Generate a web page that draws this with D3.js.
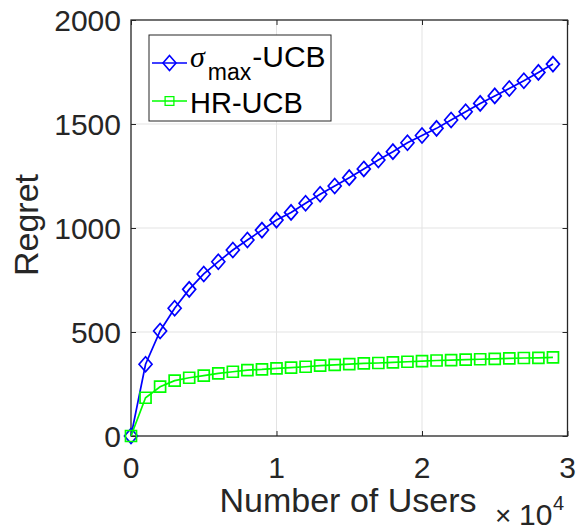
<!DOCTYPE html>
<html>
<head>
<meta charset="utf-8">
<script src="https://cdn.jsdelivr.net/npm/d3@7"></script>
<style>
  body { margin: 0; background: #fff; }
  svg { display: block; font-family: "Liberation Sans", Arial, Helvetica, sans-serif; }
  .grid line { stroke: #e3e3e3; stroke-width: 1; }
  .tick-label { fill: #262626; font-size: 30px; }
</style>
</head>
<body>
<div id="chart"></div>
<script>
// data (x in users, y = regret)
const users = [0, 1000, 2000, 3000, 4000, 5000, 6000, 7000, 8000, 9000,
  10000, 11000, 12000, 13000, 14000, 15000, 16000, 17000, 18000, 19000,
  20000, 21000, 22000, 23000, 24000, 25000, 26000, 27000, 28000, 29000];
const sigmaUCB = [0, 345, 505, 614, 705, 779, 838, 894, 942, 990,
  1038, 1075, 1119, 1162, 1202, 1242, 1284, 1327, 1367, 1410,
  1445, 1479, 1519, 1559, 1599, 1635, 1671, 1708, 1748, 1788];
const hrUCB = [0, 184, 237, 266, 280, 290, 301, 309, 317, 320,
  325, 329, 333, 338, 342, 346, 349, 351, 354, 357,
  360, 363, 365, 367, 369, 371, 373, 375, 376, 378];
const xTicks = [0, 10000, 20000, 30000];
const xTickLabels = ["0", "1", "2", "3"];
const yTicks = [0, 500, 1000, 1500, 2000];

const width = 577, height = 531;
const plot = { left: 131, right: 567.5, top: 20, bottom: 436 };
const axisColor = "#262626";

const svg = d3.select("#chart").append("svg")
  .attr("width", width)
  .attr("height", height);

const x = d3.scaleLinear().domain([0, 30000]).range([plot.left, plot.right]);
const y = d3.scaleLinear().domain([0, 2000]).range([plot.bottom, plot.top]);

// grid
const grid = svg.append("g").attr("class", "grid");
grid.selectAll(".gx").data(xTicks.slice(1, -1)).join("line")
  .attr("x1", d => x(d)).attr("x2", d => x(d))
  .attr("y1", plot.top).attr("y2", plot.bottom);
grid.selectAll(".gy").data(yTicks.slice(1, -1)).join("line")
  .attr("x1", plot.left).attr("x2", plot.right)
  .attr("y1", d => y(d)).attr("y2", d => y(d));

// axes, ticks pointing inward on all four sides
const tickLen = 5;
const axes = svg.append("g");
axes.append("g").attr("transform", `translate(0,${plot.bottom})`)
  .call(d3.axisTop(x).tickValues(xTicks).tickSize(tickLen).tickFormat(""));
axes.append("g").attr("transform", `translate(0,${plot.top})`)
  .call(d3.axisBottom(x).tickValues(xTicks).tickSize(tickLen).tickFormat(""));
axes.append("g").attr("transform", `translate(${plot.left},0)`)
  .call(d3.axisRight(y).tickValues(yTicks).tickSize(tickLen).tickFormat(""));
axes.append("g").attr("transform", `translate(${plot.right},0)`)
  .call(d3.axisLeft(y).tickValues(yTicks).tickSize(tickLen).tickFormat(""));
axes.selectAll(".domain").remove();
axes.selectAll("line").attr("stroke", axisColor).attr("stroke-width", 1);

svg.append("rect")
  .attr("x", plot.left).attr("y", plot.top)
  .attr("width", plot.right - plot.left).attr("height", plot.bottom - plot.top)
  .attr("fill", "none").attr("stroke", axisColor).attr("stroke-width", 1.3);

// tick labels
svg.append("g").selectAll("text").data(xTicks).join("text")
  .attr("class", "tick-label")
  .attr("x", d => x(d)).attr("y", 478)
  .attr("text-anchor", "middle")
  .text((d, i) => xTickLabels[i]);
svg.append("g").selectAll("text").data(yTicks).join("text")
  .attr("class", "tick-label")
  .attr("x", 121).attr("y", d => y(d)).attr("dy", "0.36em")
  .attr("text-anchor", "end")
  .text(d => d);

// axis labels
svg.append("text")
  .attr("x", 348).attr("y", 512)
  .attr("text-anchor", "middle")
  .attr("fill", axisColor).attr("font-size", 34)
  .text("Number of Users");
svg.append("text")
  .attr("transform", "translate(38,225) rotate(-90)")
  .attr("text-anchor", "middle")
  .attr("fill", axisColor).attr("font-size", 34)
  .text("Regret");
const expo = svg.append("g").attr("fill", axisColor);
expo.append("text").attr("x", 495).attr("y", 525).attr("font-size", 28).text("\u00d7");
expo.append("text").attr("x", 519).attr("y", 525).attr("font-size", 30).text("10");
expo.append("text").attr("x", 553).attr("y", 510).attr("font-size", 20).text("4");

// series
const diamond = "M0,-7.5L6.5,0L0,7.5L-6.5,0Z";
const square = "M-5.5,-5.5H5.5V5.5H-5.5Z";
const series = [
  { name: "sigma", values: sigmaUCB, color: "#0000ff", marker: diamond },
  { name: "hr", values: hrUCB, color: "#00ff00", marker: square }
];
const line = d3.line().x(d => x(d.x)).y(d => y(d.y));

series.forEach(s => {
  const pts = users.map((u, i) => ({ x: u, y: s.values[i] }));
  const g = svg.append("g");
  g.append("path").datum(pts)
    .attr("d", line)
    .attr("fill", "none").attr("stroke", s.color).attr("stroke-width", 1.7);
  g.selectAll("path.m").data(pts).join("path")
    .attr("class", "m")
    .attr("d", s.marker)
    .attr("transform", d => `translate(${x(d.x)},${y(d.y)})`)
    .attr("fill", "none").attr("stroke", s.color).attr("stroke-width", 1.7);
});

// legend
const lg = svg.append("g");
lg.append("rect")
  .attr("x", 149).attr("y", 35).attr("width", 182).attr("height", 86)
  .attr("fill", "#fff").attr("stroke", axisColor).attr("stroke-width", 1);
const entries = [
  { s: series[0], cy: 63 },
  { s: series[1], cy: 101 }
];
entries.forEach(e => {
  lg.append("line")
    .attr("x1", 152).attr("x2", 187).attr("y1", e.cy).attr("y2", e.cy)
    .attr("stroke", e.s.color).attr("stroke-width", 1.6);
  lg.append("path")
    .attr("d", e.s.marker)
    .attr("transform", `translate(169.5,${e.cy}) scale(${e.s.name === "hr" ? 0.8 : 1})`)
    .attr("fill", "none").attr("stroke", e.s.color).attr("stroke-width", 1.6);
});
const t1 = lg.append("text").attr("fill", "#000").attr("font-size", 30)
  .attr("x", 190).attr("y", 67);
t1.append("tspan").attr("font-style", "italic").attr("font-family", "'Liberation Serif', serif").text("\u03c3");
t1.append("tspan").attr("font-size", 23).attr("dx", 3).attr("dy", 13).text("max");
t1.append("tspan").attr("dx", 1).attr("dy", -13).text("-UCB");
lg.append("text").attr("fill", "#000").attr("font-size", 29)
  .attr("x", 190).attr("y", 112.5)
  .text("HR-UCB");
</script>
</body>
</html>
